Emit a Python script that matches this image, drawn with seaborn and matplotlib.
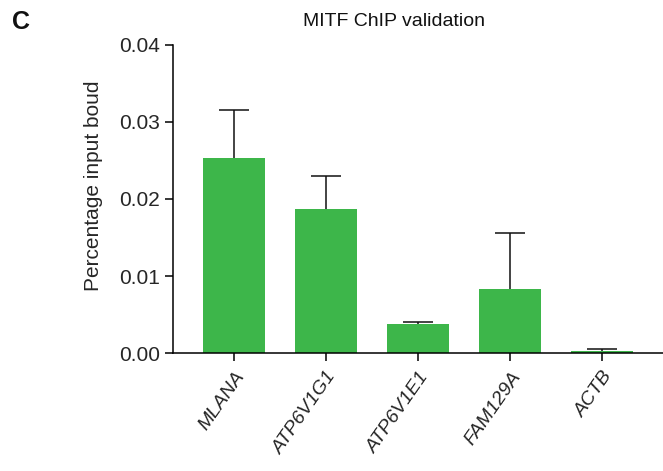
import matplotlib
matplotlib.use("Agg")
import matplotlib.pyplot as plt
import seaborn as sns
import pandas as pd

genes = ["MLANA", "ATP6V1G1", "ATP6V1E1", "FAM129A", "ACTB"]
means = [0.0253, 0.0187, 0.0038, 0.0083, 0.00025]
err_upper = [0.0063, 0.0043, 0.00025, 0.0073, 0.00025]
yticks = [0.00, 0.01, 0.02, 0.03, 0.04]

sns.set_style("ticks")
plt.rcParams['font.family'] = ['Liberation Sans', 'DejaVu Sans']

df = pd.DataFrame({"gene": genes, "value": means})

fig = plt.figure(figsize=(6.63, 4.71), dpi=100)
ax = fig.add_axes([0.261, 0.2505, 0.739, 0.654])

sns.barplot(data=df, x="gene", y="value", color="#3DB64A", saturation=1,
            width=0.674, errorbar=None, ax=ax, zorder=2, linewidth=0)
eb = ax.errorbar(range(len(genes)), means, yerr=[[0]*len(genes), err_upper],
                 fmt="none", ecolor="#111111", elinewidth=1.1, capsize=11,
                 capthick=1.1, zorder=1)
# keep only the upper caps
caplines = eb[1]
if len(caplines) == 2:
    caplines[0].remove()

ax.set_xlim(-0.668, 4.66)
ax.set_ylim(0, 0.04)
ax.set_yticks(yticks)
ax.set_yticklabels([f"{t:.2f}" for t in yticks], fontsize=15)
ax.set_xticks(range(len(genes)))
ax.set_xticklabels(genes, rotation=55, ha="right", rotation_mode="anchor",
                   fontsize=14, style="italic")
ax.tick_params(axis="both", direction="out", length=6, width=1.1, color="black")
ax.tick_params(axis="x", pad=5)
for s in ["left", "bottom"]:
    ax.spines[s].set_linewidth(1.1)
    ax.spines[s].set_color("black")
sns.despine(ax=ax)
ax.set_xlabel("")
ax.set_ylabel("Percentage input boud", fontsize=15)
ax.yaxis.set_label_coords(-0.143, 0.542)
fig.text(394 / 663, 1 - 21 / 471, "MITF ChIP validation", fontsize=14,
         ha="center", va="center", color="#111111")
fig.text(21 / 663, 1 - 22 / 471, "C", fontsize=18, fontweight="bold",
         ha="center", va="center", color="#111111")

fig.savefig("out.png", dpi=100)
